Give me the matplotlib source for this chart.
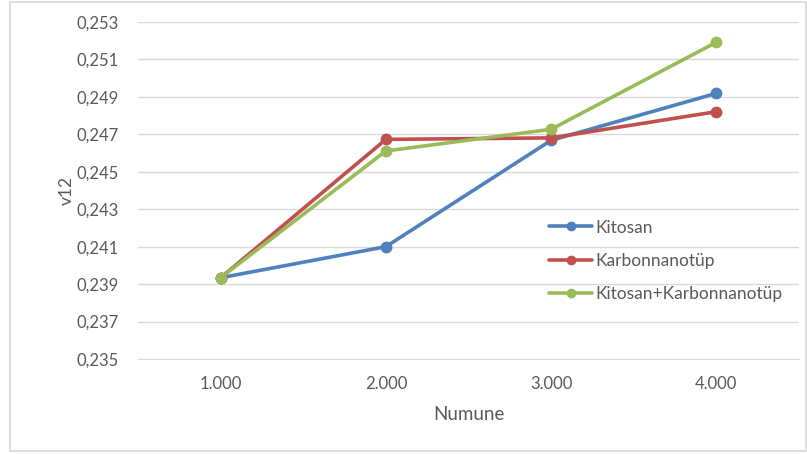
import matplotlib
matplotlib.use("Agg")
import matplotlib.pyplot as plt
from matplotlib.patches import Rectangle
from matplotlib.ticker import FuncFormatter

categories = ["1.000", "2.000", "3.000", "4.000"]
kitosan = [0.23934, 0.24100, 0.24668, 0.24919]
karbon = [0.23934, 0.24673, 0.24681, 0.24821]
kitosan_karbon = [0.23934, 0.24611, 0.24727, 0.25192]
series_names = ["Kitosan", "Karbonnanotüp", "Kitosan+Karbonnanotüp"]
colors = ["#4f81bd", "#c0504d", "#9bbb59"]

plt.rcParams['font.family'] = ['Lato', 'DejaVu Sans']
text_color = "#595959"

fig = plt.figure(figsize=(8.07, 4.54), dpi=100)
fig.patches.append(Rectangle((10/807, 3/454), 796/807, 449/454, transform=fig.transFigure,
                             fill=False, edgecolor="#d9d9d9", linewidth=1.2))
ax = fig.add_axes([138/807, 1 - 359/454, 661/807, 337/454])

x = range(len(categories))
for vals, name, c in zip([kitosan, karbon, kitosan_karbon], series_names, colors):
    ax.plot(x, vals, color=c, linewidth=2.6, marker='o', markersize=7.5, label=name,
            solid_capstyle='round')

ax.set_xlim(-0.5, len(categories) - 0.5)
ax.set_ylim(0.235, 0.253)
ax.set_yticks([0.235 + 0.002 * i for i in range(10)])
ax.yaxis.set_major_formatter(FuncFormatter(lambda v, p: f"{v:.3f}".replace('.', ',')))
ax.set_xticks(list(x))
ax.set_xticklabels(categories)
ax.grid(axis='y', color="#d9d9d9", linewidth=1)
ax.set_axisbelow(True)
for s in ['top', 'right', 'left']:
    ax.spines[s].set_visible(False)
ax.spines['bottom'].set_color("#d9d9d9")
ax.tick_params(axis='both', length=0, colors=text_color, labelsize=12)
ax.tick_params(axis='y', pad=14)
ax.tick_params(axis='x', pad=12)
ax.set_xlabel("Numune", color=text_color, fontsize=13.5, labelpad=10)
ax.set_ylabel("v12", color=text_color, fontsize=12.5, labelpad=1)

leg = ax.legend(loc='center left', bbox_to_anchor=(0.598, 0.291), frameon=False,
                fontsize=12.5, handlelength=2.5, handletextpad=0.2, labelspacing=1.0,
                markerscale=0.8)
for t in leg.get_texts():
    t.set_color(text_color)

fig.savefig("out.png", dpi=100)
